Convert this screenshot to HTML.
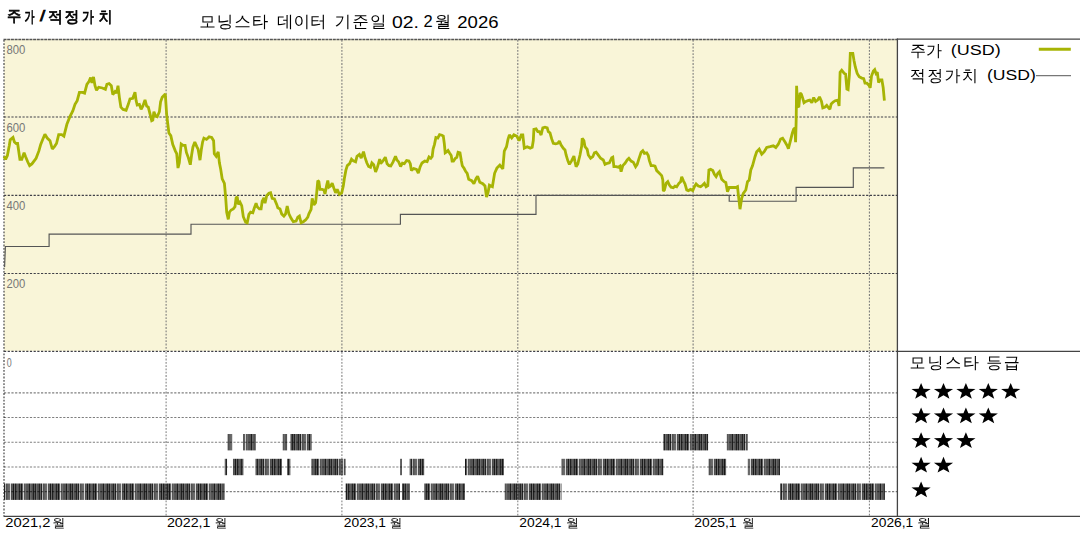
<!DOCTYPE html>
<html><head><meta charset="utf-8"><title>주가/적정가치</title>
<style>
html,body{margin:0;padding:0;background:#fff;}
body{width:1080px;height:540px;overflow:hidden;}
svg{display:block;}
text{font-family:'Liberation Sans','WenQuanYi Zen Hei',sans-serif;}
</style></head><body>
<svg width="1080" height="540" viewBox="0 0 1080 540">
<defs>
<pattern id="stripe" patternUnits="userSpaceOnUse" x="0" y="0" width="37" height="20">
<rect x="0" width="1" height="20" fill="#525252"/><rect x="1" width="1" height="20" fill="#4f4f4f"/><rect x="2" width="1" height="20" fill="#252525"/><rect x="3" width="1" height="20" fill="#606060"/><rect x="4" width="1" height="20" fill="#242424"/><rect x="5" width="1" height="20" fill="#b5b5b5"/><rect x="6" width="1" height="20" fill="#505050"/><rect x="7" width="1" height="20" fill="#5f5f5f"/><rect x="8" width="1" height="20" fill="#686868"/><rect x="9" width="1" height="20" fill="#6c6c6c"/><rect x="10" width="1" height="20" fill="#d8d8d8"/><rect x="11" width="1" height="20" fill="#4f4f4f"/><rect x="12" width="1" height="20" fill="#5a5a5a"/><rect x="13" width="1" height="20" fill="#1b1b1b"/><rect x="14" width="1" height="20" fill="#696969"/><rect x="15" width="1" height="20" fill="#212121"/><rect x="16" width="1" height="20" fill="#515151"/><rect x="17" width="1" height="20" fill="#5f5f5f"/><rect x="18" width="1" height="20" fill="#535353"/><rect x="19" width="1" height="20" fill="#262626"/><rect x="20" width="1" height="20" fill="#595959"/><rect x="21" width="1" height="20" fill="#161616"/><rect x="22" width="1" height="20" fill="#616161"/><rect x="23" width="1" height="20" fill="#d2d2d2"/><rect x="24" width="1" height="20" fill="#585858"/><rect x="25" width="1" height="20" fill="#6b6b6b"/><rect x="26" width="1" height="20" fill="#575757"/><rect x="27" width="1" height="20" fill="#535353"/><rect x="28" width="1" height="20" fill="#555555"/><rect x="29" width="1" height="20" fill="#1d1d1d"/><rect x="30" width="1" height="20" fill="#6a6a6a"/><rect x="31" width="1" height="20" fill="#5c5c5c"/><rect x="32" width="1" height="20" fill="#505050"/><rect x="33" width="1" height="20" fill="#212121"/><rect x="34" width="1" height="20" fill="#585858"/><rect x="35" width="1" height="20" fill="#232323"/><rect x="36" width="1" height="20" fill="#6c6c6c"/>
</pattern>
</defs>
<rect x="0" y="0" width="1080" height="540" fill="#fff"/>
<rect x="4" y="39" width="893" height="312" fill="#f9f5d8"/>
<g fill="none">
<g stroke="#777" stroke-width="1.05" stroke-dasharray="1.8 1.5">
<line x1="166.1" y1="40" x2="166.1" y2="351"/><line x1="341.9" y1="40" x2="341.9" y2="351"/><line x1="517.8" y1="40" x2="517.8" y2="351"/><line x1="693.1" y1="40" x2="693.1" y2="351"/><line x1="869.4" y1="40" x2="869.4" y2="351"/>
</g>
<line x1="4" y1="40" x2="4" y2="516" stroke="#555" stroke-width="1.3" stroke-dasharray="1.8 1.5"/>
<g stroke="#404048" stroke-width="1.15" stroke-dasharray="2.2 1.5">
<line x1="4" y1="117" x2="897" y2="117"/><line x1="4" y1="195.3" x2="897" y2="195.3"/><line x1="4" y1="273.5" x2="897" y2="273.5"/>
<line x1="4" y1="351.3" x2="897" y2="351.3"/>
</g>
<line x1="3.5" y1="39.4" x2="897" y2="39.4" stroke="#555" stroke-width="1.5" stroke-dasharray="3 0.7"/>
</g>
<g stroke="#444" stroke-width="1.3" fill="none">
<line x1="897" y1="39.2" x2="1080" y2="39.2"/>
<line x1="897" y1="351.3" x2="1080" y2="351.3"/>
<line x1="3.5" y1="516.4" x2="1080" y2="516.4"/>
<line x1="897.4" y1="38.5" x2="897.4" y2="516.9"/>
</g>
<path d="M4.6,267 L5.4,246.5 L49.1,246.5 L49.1,234.1 L191,234.1 L191,224.2 L400.4,224.2 L400.4,214.4 L536,214.4 L536,195.3 L729.2,195.3 L729.2,201.2 L796.1,201.2 L796.1,187.4 L853.3,187.4 L853.3,167.8 L884.4,167.8" stroke="#555" stroke-width="1.15" fill="none"/>
<path d="M4,156.5 L5.6,159.3 L7.4,155.6 L9.3,145.4 L10.2,139.8 L13,137.5 L14.4,142 L16.2,143.5 L17.6,143.5 L19.9,159.3 L21.8,159.3 L24.1,152.8 L25.5,156.5 L27.8,162 L29.6,165.7 L31.9,163.9 L36.1,158.3 L38.9,150.9 L40.7,144.4 L42.6,139.8 L44.9,134.3 L47.2,138 L50,140.7 L52.3,149 L54.6,146.3 L56.5,143.5 L58.7,134.6 L61.7,134.6 L63.9,136.1 L66.9,124.3 L69.8,116.9 L72.8,110.9 L75,104.3 L77.2,100.6 L79.4,92.4 L82.4,92.4 L84.6,93.1 L86.9,84.3 L89.1,81.3 L90.6,77.6 L92,82.8 L93.5,76.9 L95,85.7 L96.5,90.2 L98.7,87.2 L102.4,88 L105.4,89.4 L106.9,84.3 L109.1,83.5 L111.3,85.7 L112.8,94.6 L115,91.7 L116.5,93.1 L118,85.7 L119.4,97.6 L120.9,107.2 L123.1,109.4 L126.1,110.2 L128.3,104.3 L130,98.9 L132.8,98.3 L135,92.2 L136.1,100.6 L137.2,105 L139.4,104.4 L141.1,109.4 L142.8,106.1 L145,100 L146.7,106.1 L148.3,107.2 L150,113.9 L151.7,120.6 L152.8,120 L153.9,111.7 L155.6,116.1 L157.2,116.7 L159.4,111.7 L160.6,101.7 L162.2,97.2 L163.9,95.6 L165.3,93.9 L166.7,115 L167.8,123.9 L168.9,133 L170.8,135.6 L172.8,144.6 L175.4,151.1 L176.7,153.7 L178,168 L179.3,162.8 L181.2,144 L183.1,145.3 L185.1,145.3 L186.4,152.4 L188.3,157.6 L190.3,164.7 L191.6,155 L192.9,147.2 L194.8,142 L196.8,146.6 L198.1,149.2 L200,160.2 L201.3,149.8 L202.6,142 L203.9,138.1 L206.5,139.4 L209.1,136.9 L211.7,137.5 L213.6,140.7 L214.3,153.7 L216.2,156.3 L218.2,151.8 L219.4,162.8 L220.7,169.3 L222.2,178.9 L224.4,183.3 L225.6,196.7 L226.7,212.2 L228.3,219.4 L229.4,212.2 L231.1,210 L233.3,208.9 L235,206.7 L236.1,197.8 L237.2,196.7 L238.3,204.4 L240,202.2 L241.7,205.6 L243.3,216.7 L245.6,222.2 L247.2,222.8 L248.9,214.4 L250.6,212.2 L252.8,212.8 L254.4,207.8 L256.1,203.3 L257.2,206.7 L259.4,208.9 L261.1,208.9 L262.2,201.1 L263.9,197.8 L265,203.3 L266.7,195.6 L268.9,193.3 L270.6,192.8 L272.2,198.3 L274.4,198.9 L276.7,204.4 L277.8,207.8 L280,208.9 L281.7,213.9 L283.9,216.1 L285.6,213.9 L287.2,206.1 L288.9,213.9 L291.1,218.3 L293.3,221.7 L296.1,221.1 L297.8,217.2 L299.4,216.1 L301.1,222.8 L303.3,221.7 L305.6,220 L307.8,217.2 L308.9,213.9 L311.1,209.4 L312.2,198.3 L313.9,205 L315.6,202.8 L316.7,192.8 L317.8,180.6 L318.9,181.7 L320,189.4 L322.2,189.4 L323.9,190 L325,193.9 L326.7,185 L327.8,180.6 L328.9,187.2 L330.6,186.1 L332.2,183.3 L333.9,188.3 L335.6,192.8 L337.2,189.4 L339.4,194.4 L341.7,192.8 L343.3,186.1 L344.4,178.3 L345.9,170.2 L347.3,165.6 L349.6,163.7 L351.5,159.1 L353.3,160.9 L355.6,161.9 L357,156.3 L359.4,154.4 L361.2,158.1 L363.5,151.7 L364.9,157.2 L366.8,162.8 L368.6,166.5 L370.5,167.4 L371.9,162.8 L373.7,164.6 L375.6,172 L377.4,167.4 L379.7,159.1 L380.6,163.7 L383,160.9 L385.3,157.2 L387.1,163.7 L389,165.6 L390.8,166 L393.1,161.9 L395.5,156.3 L396.9,160 L398.7,161.9 L400.6,166.5 L402.4,163.2 L404.3,163.7 L406.6,160.5 L408.9,160.9 L410.3,163.7 L411.4,170.4 L413.7,168.5 L416.5,169.4 L418.3,173.1 L420.2,166.7 L422,163 L424.8,161.1 L427.1,161.6 L429,156.9 L430.8,158.3 L432.2,156.5 L433.1,149.1 L434.5,144.4 L435.9,137.5 L437.8,138 L439.6,134.7 L441.9,135.2 L443.3,136.1 L444.3,143.5 L445.2,152.8 L446.6,151.9 L448,150.5 L449.4,152.8 L451.2,155.6 L452.1,161.1 L453.5,161.1 L455.4,158.3 L456.8,157.4 L458.1,152.3 L460,152.8 L461.4,161.1 L462.3,165.7 L464.2,168.5 L465.6,171.3 L467.2,173.3 L468.7,179.3 L471.7,180.7 L473.9,183.7 L476.1,178.5 L477.6,176.3 L479.8,182.2 L482.8,183.7 L485,185.9 L486.5,197 L488,192.6 L489.4,185.2 L492.4,186.7 L494.6,173.3 L496.9,168.1 L499.8,165.2 L502.8,168.9 L504.3,151.1 L506.5,146.7 L508,139.3 L509.4,134.8 L511.7,137.8 L513.9,134.8 L516.9,136.3 L519.1,140.7 L521.3,134.8 L522.8,134.8 L524.3,148.1 L527.2,146.7 L530.2,148.1 L532.2,147.2 L533.3,140.6 L533.9,129.4 L536.1,128.9 L537.8,131.7 L539.4,131.7 L541.1,135 L542.8,127.8 L545,127.2 L547.2,127.8 L548.3,131.7 L550,132.8 L551.7,138.9 L553.3,143.3 L555.6,143.9 L557.8,143.3 L559.4,141.1 L561.1,145 L563.3,148.3 L565,150 L566.1,155 L567.8,160.6 L569.4,164.4 L571.7,160.6 L573.9,156.1 L575,161.7 L576.1,166.7 L577.8,163.9 L580,155 L581.7,146.1 L582.2,138.3 L583.9,140.6 L585,146.7 L587.2,149.4 L588.3,155 L590.6,158.3 L592.8,156.7 L594.4,152.8 L596.1,152.2 L597.8,154.4 L600.6,158.3 L603.3,160 L605,164.4 L607.2,163.3 L609.4,162.8 L611.7,157.8 L612.8,157.2 L613.9,166.7 L616.1,166.7 L618.3,167.2 L620,166.1 L621.1,171.7 L622.8,165.6 L625,163.3 L627.2,160 L628.9,158.3 L631.1,161.1 L633.3,162.2 L635.6,166.7 L637.2,164.4 L638.9,158.9 L641.1,152.2 L642.8,150.6 L644.4,153.3 L646.7,152.8 L648.3,155.6 L649.4,160.6 L651.1,165.6 L653.3,165.6 L655,166.1 L656.7,170.6 L658.9,172.8 L661.7,175.6 L662.8,180 L663.3,191.1 L664.4,190 L666.1,183.3 L667.8,181.7 L669.4,185 L671.1,187.2 L673.3,187.8 L675,186.1 L676.7,186.7 L678.9,183.3 L680.6,181.7 L681.7,176.7 L683.3,180.6 L685,183.9 L686.7,190 L688.3,190.6 L690.6,189.4 L692.8,190.6 L694.4,186.7 L696.1,183.9 L698.3,186.1 L700.6,186.7 L702.8,185 L704.4,183.3 L706.1,186.7 L707.8,185.6 L708.9,170 L710.6,169.4 L712.8,170.6 L714.4,174.4 L716.1,176.7 L717.8,173.3 L719.4,171.7 L721.7,179.2 L724.2,181.7 L725.8,182.5 L727.5,191.7 L729.2,187.5 L732.5,187.5 L735.8,187.5 L737.5,186.7 L738.3,194.2 L740,209.2 L741.7,198.3 L743.3,193.3 L745.8,190 L747.5,181.7 L749.2,180 L750.8,170 L752.5,165.8 L755,156.7 L756.7,151.7 L759.2,149.2 L761.7,154.2 L764.2,151.7 L766.7,147.5 L770,146.7 L773.3,145.8 L775.8,147.5 L778.3,144.2 L780.6,139 L782.6,138.3 L785.2,142.2 L787.1,145.5 L788.4,148.7 L790.4,140.9 L792.3,133.2 L793.6,129.3 L794.9,128 L795.6,142.2 L796.2,118.9 L796.6,85.8 L797.5,105.9 L798.8,107.2 L800.1,93 L801.4,94.3 L802.7,98.1 L804,102.7 L805.9,101.4 L807.9,100.7 L809.8,100.1 L811.8,102.7 L813.7,97.5 L815.6,101.4 L817.6,100.1 L819.5,96.9 L821.5,101.4 L822.8,107.9 L824.7,107.2 L826.7,105.3 L828.6,107.9 L829.9,109.2 L831.2,104 L833.2,102 L835.2,100.7 L837.8,100.1 L839.1,105.9 L840.1,72.2 L841.7,70.3 L844.3,73.5 L845.6,74.2 L846.9,89.1 L848.1,89.7 L849.4,74.8 L850.3,53.3 L852.8,53.3 L854,60.6 L855.3,67 L857.2,73.5 L859.2,76.8 L861.8,78.1 L863.7,78.7 L865,83.2 L866.9,83.2 L868.9,85.2 L870.2,87.8 L871.5,76.1 L873.4,70.9 L874.7,69.6 L876,73.5 L877.3,72.2 L878.6,82.6 L879.9,80 L881.9,80 L883.2,87.8 L884.4,100.7" stroke="#a7b404" stroke-width="2.8" fill="none" stroke-linejoin="miter" stroke-miterlimit="2"/>
<rect x="4" y="483.5" width="220.5" height="16.4" fill="url(#stripe)"/>
<rect x="345.6" y="483.5" width="54.4" height="16.4" fill="url(#stripe)"/>
<rect x="402" y="483.5" width="7.7" height="16.4" fill="url(#stripe)"/>
<rect x="424.2" y="483.5" width="40.8" height="16.4" fill="url(#stripe)"/>
<rect x="504" y="483.5" width="57.5" height="16.4" fill="url(#stripe)"/>
<rect x="780" y="483.5" width="104.9" height="16.4" fill="url(#stripe)"/>
<rect x="224.8" y="458.8" width="2.3" height="16.4" fill="url(#stripe)"/>
<rect x="232.9" y="458.8" width="10.4" height="16.4" fill="url(#stripe)"/>
<rect x="255.6" y="458.8" width="26.4" height="16.4" fill="url(#stripe)"/>
<rect x="287.1" y="458.8" width="3.3" height="16.4" fill="url(#stripe)"/>
<rect x="311.5" y="458.8" width="34.1" height="16.4" fill="url(#stripe)"/>
<rect x="400" y="458.8" width="2.0" height="16.4" fill="url(#stripe)"/>
<rect x="409.7" y="458.8" width="14.5" height="16.4" fill="url(#stripe)"/>
<rect x="465" y="458.8" width="39.0" height="16.4" fill="url(#stripe)"/>
<rect x="561.5" y="458.8" width="101.8" height="16.4" fill="url(#stripe)"/>
<rect x="708.2" y="458.8" width="18.2" height="16.4" fill="url(#stripe)"/>
<rect x="747.8" y="458.8" width="32.2" height="16.4" fill="url(#stripe)"/>
<rect x="227.1" y="434.0" width="5.8" height="16.4" fill="url(#stripe)"/>
<rect x="243.3" y="434.0" width="12.3" height="16.4" fill="url(#stripe)"/>
<rect x="282" y="434.0" width="5.1" height="16.4" fill="url(#stripe)"/>
<rect x="290.4" y="434.0" width="21.1" height="16.4" fill="url(#stripe)"/>
<rect x="663.3" y="434.0" width="44.9" height="16.4" fill="url(#stripe)"/>
<rect x="726.4" y="434.0" width="21.4" height="16.4" fill="url(#stripe)"/>
<g fill="none" stroke="#000" stroke-opacity="0.5">
<g stroke-width="1.05" stroke-dasharray="1.8 1.5">
<line x1="166.1" y1="352" x2="166.1" y2="516"/><line x1="341.9" y1="352" x2="341.9" y2="516"/><line x1="517.8" y1="352" x2="517.8" y2="516"/><line x1="693.1" y1="352" x2="693.1" y2="516"/><line x1="869.4" y1="352" x2="869.4" y2="516"/>
</g>
<g stroke-width="1.15" stroke-dasharray="2.2 1.5">
<line x1="4" y1="392.8" x2="897" y2="392.8"/><line x1="4" y1="417.52" x2="897" y2="417.52"/><line x1="4" y1="442.24" x2="897" y2="442.24"/><line x1="4" y1="466.96" x2="897" y2="466.96"/><line x1="4" y1="491.68" x2="897" y2="491.68"/>
</g>
</g>
<text x="6.9" y="21.2" font-size="15.5" fill="#000" stroke="#000" stroke-width="0.75" textLength="14.3" lengthAdjust="spacingAndGlyphs">주</text>
<text x="24.6" y="22.2" font-size="15.5" fill="#000" stroke="#000" stroke-width="0.75" textLength="10.0" lengthAdjust="spacingAndGlyphs">가</text>
<text x="40.1" y="21.2" font-size="15.5" fill="#000" stroke="#000" stroke-width="0.75" textLength="5.21" lengthAdjust="spacingAndGlyphs">/</text>
<text x="48.0" y="22.2" font-size="15.5" fill="#000" stroke="#000" stroke-width="0.75" textLength="14.9" lengthAdjust="spacingAndGlyphs">적</text>
<text x="64.4" y="22.2" font-size="15.5" fill="#000" stroke="#000" stroke-width="0.75" textLength="14.8" lengthAdjust="spacingAndGlyphs">정</text>
<text x="82.1" y="22.2" font-size="15.5" fill="#000" stroke="#000" stroke-width="0.75" textLength="11.9" lengthAdjust="spacingAndGlyphs">가</text>
<text x="98.8" y="22.2" font-size="15.5" fill="#000" stroke="#000" stroke-width="0.75" textLength="13.7" lengthAdjust="spacingAndGlyphs">치</text>
<text x="199.2" y="27.4" font-size="16.5" fill="#000" textLength="69.1" lengthAdjust="spacing">모닝스타</text>
<text x="277.0" y="27.4" font-size="16.5" fill="#000" textLength="49.5" lengthAdjust="spacing">데이터</text>
<text x="334.5" y="27.4" font-size="16.5" fill="#000" textLength="52.1" lengthAdjust="spacing">기준일</text>
<text x="392.0" y="27.9" font-size="16.5" fill="#000" textLength="26.94" lengthAdjust="spacingAndGlyphs">02.</text>
<text x="423.4" y="27.4" font-size="16.5" fill="#000" textLength="27.89" lengthAdjust="spacing">2월</text>
<text x="457.3" y="27.9" font-size="16.5" fill="#000" textLength="41.22" lengthAdjust="spacingAndGlyphs">2026</text>
<text x="910.0" y="56.2" font-size="16" fill="#000" textLength="32.0" lengthAdjust="spacing">주가</text>
<text x="950.8" y="55.2" font-size="14" fill="#000" textLength="49.89" lengthAdjust="spacingAndGlyphs">(USD)</text>
<text x="909.8" y="80.5" font-size="16" fill="#000" textLength="68.2" lengthAdjust="spacing">적정가치</text>
<text x="987.0" y="79.5" font-size="14" fill="#000" textLength="48.89" lengthAdjust="spacingAndGlyphs">(USD)</text>
<text x="909.6" y="368.4" font-size="16" fill="#000" textLength="69.5" lengthAdjust="spacing">모닝스타</text>
<text x="986.2" y="368.4" font-size="16" fill="#000" textLength="33.5" lengthAdjust="spacing">등급</text>
<text x="6.4" y="54.0" font-size="12.5" fill="#777" textLength="18.86" lengthAdjust="spacingAndGlyphs">800</text>
<text x="6.4" y="132.0" font-size="12.5" fill="#777" textLength="18.86" lengthAdjust="spacingAndGlyphs">600</text>
<text x="6.4" y="210.2" font-size="12.5" fill="#777" textLength="18.86" lengthAdjust="spacingAndGlyphs">400</text>
<text x="6.4" y="288.4" font-size="12.5" fill="#777" textLength="18.86" lengthAdjust="spacingAndGlyphs">200</text>
<text x="6.7" y="366.8" font-size="12.5" fill="#777" textLength="4.95" lengthAdjust="spacingAndGlyphs">0</text>
<text x="5.3" y="526.8" font-size="12.3" fill="#000" textLength="45.13" lengthAdjust="spacingAndGlyphs">2021,2</text>
<text x="52.3" y="526.7" font-size="12.1" fill="#000" textLength="13.09" lengthAdjust="spacingAndGlyphs">월</text>
<text x="166.9" y="526.8" font-size="12.3" fill="#000" textLength="43.62" lengthAdjust="spacingAndGlyphs">2022,1</text>
<text x="214.5" y="526.7" font-size="12.1" fill="#000" textLength="12.89" lengthAdjust="spacingAndGlyphs">월</text>
<text x="343.8" y="526.8" font-size="12.3" fill="#000" textLength="42.23" lengthAdjust="spacingAndGlyphs">2023,1</text>
<text x="389.6" y="526.7" font-size="12.1" fill="#000" textLength="12.89" lengthAdjust="spacingAndGlyphs">월</text>
<text x="519.3" y="526.8" font-size="12.3" fill="#000" textLength="42.23" lengthAdjust="spacingAndGlyphs">2024,1</text>
<text x="566.0" y="526.7" font-size="12.1" fill="#000" textLength="12.89" lengthAdjust="spacingAndGlyphs">월</text>
<text x="694.3" y="526.8" font-size="12.3" fill="#000" textLength="42.23" lengthAdjust="spacingAndGlyphs">2025,1</text>
<text x="742.0" y="526.7" font-size="12.1" fill="#000" textLength="12.79" lengthAdjust="spacingAndGlyphs">월</text>
<text x="871.1" y="526.8" font-size="12.3" fill="#000" textLength="42.22" lengthAdjust="spacingAndGlyphs">2026,1</text>
<text x="917.0" y="526.7" font-size="12.1" fill="#000" textLength="14.19" lengthAdjust="spacingAndGlyphs">월</text>
<line x1="1038.8" y1="49.3" x2="1070.8" y2="49.3" stroke="#a7b404" stroke-width="3"/>
<line x1="1036" y1="75.7" x2="1071" y2="75.7" stroke="#777" stroke-width="1.2"/>
<polygon points="921.10,382.90 923.55,388.69 930.70,388.91 925.07,392.71 927.03,398.64 921.10,395.20 915.17,398.64 917.13,392.71 911.50,388.91 918.65,388.69" fill="#000"/>
<polygon points="943.50,382.90 945.95,388.69 953.10,388.91 947.47,392.71 949.43,398.64 943.50,395.20 937.57,398.64 939.53,392.71 933.90,388.91 941.05,388.69" fill="#000"/>
<polygon points="965.90,382.90 968.35,388.69 975.50,388.91 969.87,392.71 971.83,398.64 965.90,395.20 959.97,398.64 961.93,392.71 956.30,388.91 963.45,388.69" fill="#000"/>
<polygon points="988.30,382.90 990.75,388.69 997.90,388.91 992.27,392.71 994.23,398.64 988.30,395.20 982.37,398.64 984.33,392.71 978.70,388.91 985.85,388.69" fill="#000"/>
<polygon points="1010.70,382.90 1013.15,388.69 1020.30,388.91 1014.67,392.71 1016.63,398.64 1010.70,395.20 1004.77,398.64 1006.73,392.71 1001.10,388.91 1008.25,388.69" fill="#000"/>
<polygon points="921.10,407.55 923.55,413.34 930.70,413.56 925.07,417.36 927.03,423.29 921.10,419.85 915.17,423.29 917.13,417.36 911.50,413.56 918.65,413.34" fill="#000"/>
<polygon points="943.50,407.55 945.95,413.34 953.10,413.56 947.47,417.36 949.43,423.29 943.50,419.85 937.57,423.29 939.53,417.36 933.90,413.56 941.05,413.34" fill="#000"/>
<polygon points="965.90,407.55 968.35,413.34 975.50,413.56 969.87,417.36 971.83,423.29 965.90,419.85 959.97,423.29 961.93,417.36 956.30,413.56 963.45,413.34" fill="#000"/>
<polygon points="988.30,407.55 990.75,413.34 997.90,413.56 992.27,417.36 994.23,423.29 988.30,419.85 982.37,423.29 984.33,417.36 978.70,413.56 985.85,413.34" fill="#000"/>
<polygon points="921.10,432.20 923.55,437.99 930.70,438.21 925.07,442.01 927.03,447.94 921.10,444.50 915.17,447.94 917.13,442.01 911.50,438.21 918.65,437.99" fill="#000"/>
<polygon points="943.50,432.20 945.95,437.99 953.10,438.21 947.47,442.01 949.43,447.94 943.50,444.50 937.57,447.94 939.53,442.01 933.90,438.21 941.05,437.99" fill="#000"/>
<polygon points="965.90,432.20 968.35,437.99 975.50,438.21 969.87,442.01 971.83,447.94 965.90,444.50 959.97,447.94 961.93,442.01 956.30,438.21 963.45,437.99" fill="#000"/>
<polygon points="921.10,456.85 923.55,462.64 930.70,462.86 925.07,466.66 927.03,472.59 921.10,469.15 915.17,472.59 917.13,466.66 911.50,462.86 918.65,462.64" fill="#000"/>
<polygon points="943.50,456.85 945.95,462.64 953.10,462.86 947.47,466.66 949.43,472.59 943.50,469.15 937.57,472.59 939.53,466.66 933.90,462.86 941.05,462.64" fill="#000"/>
<polygon points="921.10,481.50 923.55,487.29 930.70,487.51 925.07,491.31 927.03,497.24 921.10,493.80 915.17,497.24 917.13,491.31 911.50,487.51 918.65,487.29" fill="#000"/>
</svg>
</body></html>
